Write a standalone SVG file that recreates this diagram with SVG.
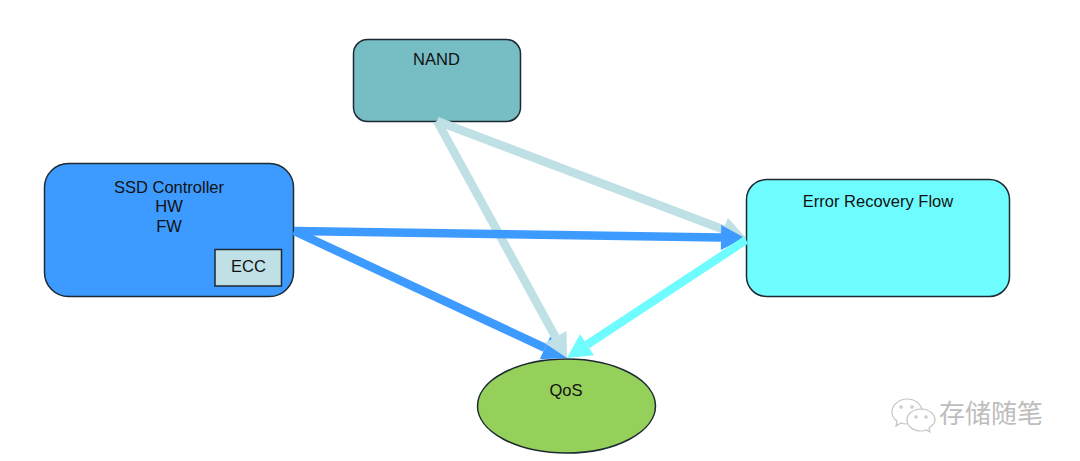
<svg xmlns="http://www.w3.org/2000/svg" width="1080" height="461" viewBox="0 0 1080 461">
<style>
.b{stroke:#1d2a33;stroke-width:1.500}
.t{font:16.500px "Liberation Sans",Arial,sans-serif;fill:#111;text-anchor:middle}
.c{fill:none;stroke-width:8.500}
.w{fill:none;stroke:#c4c4c4;stroke-width:1.200}
</style>
<defs>
<marker id="mb" markerUnits="userSpaceOnUse" markerWidth="26" markerHeight="28" refX="1" refY="14" orient="auto"><path d="M1 1.500 L25 14 L1 26.500 Z" fill="#3d9bff"/></marker>
<marker id="ml" markerUnits="userSpaceOnUse" markerWidth="26" markerHeight="28" refX="1" refY="14" orient="auto"><path d="M1 1.500 L25 14 L1 26.500 Z" fill="#bfe0e4"/></marker>
<marker id="mc" markerUnits="userSpaceOnUse" markerWidth="26" markerHeight="28" refX="1" refY="14" orient="auto"><path d="M1 1.500 L25 14 L1 26.500 Z" fill="#6ffcff"/></marker>
</defs>
<rect width="1080" height="461" fill="#fff"/>
<g id="nand"><rect class="b" x="353.500" y="39.500" width="167" height="82" rx="14" fill="#76bdc4"/><text class="t" x="436.500" y="65">NAND</text></g>
<g id="ssd"><rect class="b" x="44.500" y="163.500" width="249" height="133" rx="24" fill="#3d9bff"/><text class="t" x="169" y="192.500">SSD Controller</text><text class="t" x="169" y="211.500">HW</text><text class="t" x="169" y="232">FW</text></g>
<g id="ecc"><rect class="b" x="215" y="249.500" width="66.500" height="36.500" fill="#bfe0e4"/><text class="t" x="248.500" y="271.500">ECC</text></g>
<g id="error"><rect class="b" x="746.500" y="179.500" width="263" height="117" rx="20" fill="#6ffcff"/><text class="t" x="878" y="207">Error Recovery Flow</text></g>
<g id="qos"><ellipse class="b" cx="566.500" cy="406" rx="89" ry="47" fill="#95d05a"/><text class="t" x="566" y="396">QoS</text></g>
<g id="connectors">
<line class="c" x1="294" y1="231" x2="545" y2="347.800" stroke="#3d9bff" marker-end="url(#mb)"/>
<line class="c" x1="437" y1="121" x2="555.500" y2="337" stroke="#bfe0e4" marker-end="url(#ml)"/>
<line class="c" x1="437" y1="121" x2="723.500" y2="229.500" stroke="#bfe0e4" marker-end="url(#ml)"/>
<line class="c" x1="294" y1="231" x2="721" y2="237.600" stroke="#3d9bff" marker-end="url(#mb)"/>
<line class="c" x1="746" y1="240" x2="587" y2="344.800" stroke="#6ffcff" marker-end="url(#mc)"/>
</g>
<g id="watermark">
<path class="w" d="M907 399c-8 0-15 6-15 13 0 4 2 7 5 9l-1 5 5-3c2 1 4 1 6 1M907 399c8 0 14 5 15 11"/>
<path class="w" d="M921 409c-8 0-14 5-14 11s6 11 14 11c2 0 3 0 5-1l4 2-1-4c3-2 6-5 6-8 0-6-6-11-14-11z"/>
<circle class="w" cx="901" cy="407" r="1.200"/><circle class="w" cx="912" cy="407" r="1.200"/><circle class="w" cx="916" cy="417" r="1.100"/><circle class="w" cx="926" cy="417" r="1.100"/>
<text x="939" y="423" font-family="'Liberation Sans','Noto Sans CJK SC',sans-serif" font-size="26" fill="#bdbdbd">存储随笔</text>
</g>
</svg>
